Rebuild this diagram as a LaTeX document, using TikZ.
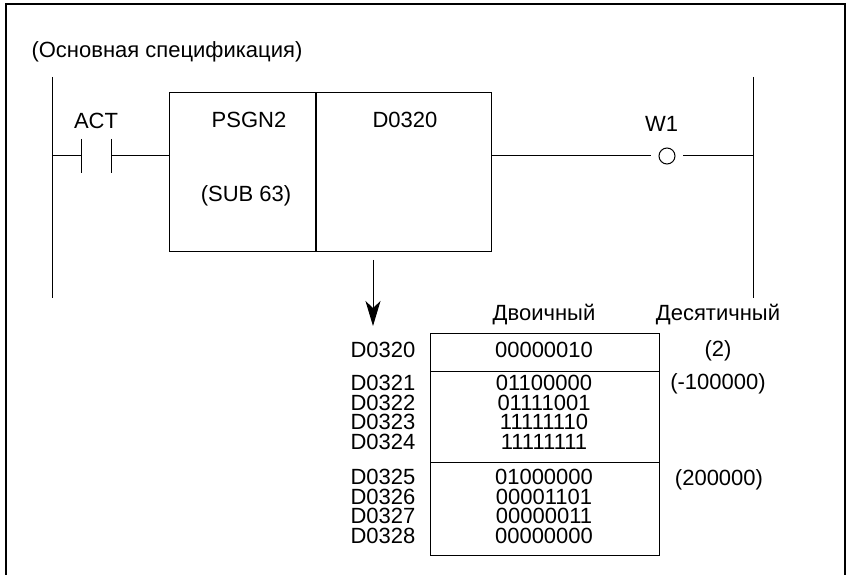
\documentclass[tikz,border=0pt]{standalone}
\usepackage{fontspec}
\setmainfont{Liberation Sans}
\usetikzlibrary{arrows.meta}

\begin{document}
\begin{tikzpicture}[x=1pt, y=-1pt,
		>={Stealth[length=25pt,width=15pt,inset=7pt]},   %Pfeilspitzen
		line width=1pt,
		lbl/.style={inner sep=0pt, font=\fontsize{22}{19.5}\selectfont},
		regs/.style={lbl, align=left, anchor=north west},
		bits/.style={lbl, align=center, anchor=north},
		cell/.style={draw, line width=0.9pt, inner sep=0pt, anchor=north west},
		coil/.style={draw, circle, minimum size=16pt, inner sep=0pt, outer sep=8pt}]
		\useasboundingbox (0,0) rectangle (847,575);
		%Rahmen
		\draw[line width=2.2pt] (6,580) -- (6,4) -- (845,4) -- (845,580);
		\node[lbl, anchor=west] (title) at (31,52) {(Основная спецификация)};
		%Schienen
		\coordinate (railLt) at (52,77);
		\coordinate (railLb) at (52,298);
		\coordinate (railL) at (52,156);
		\coordinate (railRt) at (753,77);
		\coordinate (railRb) at (753,298);
		\coordinate (railR) at (753,156);
		\draw (railLt) -- (railLb);
		\draw (railRt) -- (railRb);
		%Kontakt ACT
		\coordinate (ctA) at (81,156);
		\coordinate (ctB) at (111,156);
		\draw (ctA) +(0,-17) -- +(0,17);
		\draw (ctB) +(0,-17) -- +(0,17);
		\node[lbl] (act) at (96,121) {ACT};
		%Funktionsbaustein
		\node[cell, minimum width=146pt, minimum height=159pt] (fn) at (169,92) {};
		\node[cell, minimum width=175pt, minimum height=159pt] (par) at (fn.north east) {};
		\node[lbl] (fname) at (249,119.5) {PSGN2};
		\node[lbl] (fsub) at (246,196) {(SUB 63)};
		\node[lbl] (pname) at (405,119.5) {D0320};
		%Spule W1
		\node[coil] (w1) at (667,156) {};
		\node[lbl] (w1lbl) at (661.5,123.5) {W1};
		%Verbindungen
		\draw (railL) -- (ctA);
		\draw (ctB) -- (ctB -| fn.west);
		\draw (par.east |- w1) -- (w1);
		\draw (w1) -- (railR);
		%Pfeil
		\coordinate (arrS) at (373,260);
		\coordinate (arrE) at (373,326);
		\draw[->] (arrS) -- (arrE);
		%Tabelle
		\node[lbl, anchor=base] (hbin) at (544,320) {Двоичный};
		\node[lbl, anchor=base] (hdec) at (718,320) {Десятичный};
		\node[cell, minimum width=229pt, minimum height=222pt] (tab) at (430,333) {};
		\coordinate (sepA) at (430,371);
		\coordinate (sepB) at (430,462);
		\draw[line width=0.9pt] (sepA) -- (sepA -| tab.east);
		\draw[line width=0.9pt] (sepB) -- (sepB -| tab.east);
		%Register und Werte
		\node[regs] (regA) at (350,341.6) {D0320};
		\node[regs] (regB) at (350,375.1) {D0321\\D0322\\D0323\\D0324};
		\node[regs] (regC) at (350,469.1) {D0325\\D0326\\D0327\\D0328};
		\node[bits] (bitA) at (544,341.6) {00000010};
		\node[bits] (bitB) at (544,375.1) {01100000\\01111001\\11111110\\11111111};
		\node[bits] (bitC) at (544,469.1) {01000000\\00001101\\00000011\\00000000};
		\node[lbl] (d1) at (718,351) {(2)};
		\node[lbl] (d2) at (718,384) {(-100000)};
		\node[lbl] (d3) at (719,479.5) {(200000)};
	\end{tikzpicture}
\end{document}
